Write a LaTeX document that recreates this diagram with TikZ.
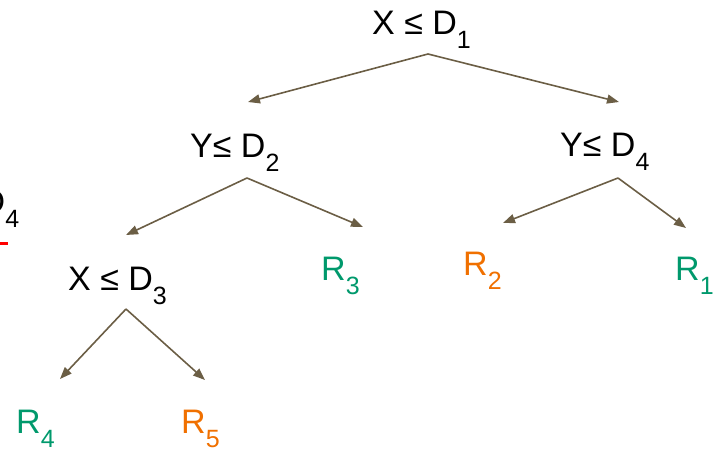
\documentclass[tikz,border=0pt]{standalone}
\usepackage{fontspec}
\setmainfont{Liberation Sans}
\usetikzlibrary{arrows.meta}
\definecolor{treegreen}{RGB}{0,153,108}
\definecolor{treeorange}{RGB}{240,112,0}
\definecolor{treearrow}{RGB}{107,94,69}
\newcommand{\idx}[1]{\raisebox{-0.44em}{\fontsize{25}{25}\selectfont #1}}
\tikzset{
  lbl/.style={inner sep=0pt, anchor=base west, font=\fontsize{34}{40}\selectfont},
  branch/.style={-{Triangle[length=12pt,width=9pt]}, line width=1.6pt, treearrow}
}
\begin{document}
\begin{tikzpicture}[x=1pt, y=-1pt]
\useasboundingbox (0,0) rectangle (717,453);
\clip (0,0) rectangle (717,453);
% Tests
\node[lbl] (t1) at (372,34) {X ≤ D\idx{1}};
\node[lbl] (t2) at (190,157) {Y≤ D\idx{2}};
\node[lbl] (t4) at (560,156) {Y≤ D\idx{4}};
\node[lbl] (t3) at (68,290) {X ≤ D\idx{3}};
% Leaves
\foreach \n/\c/\x/\y in {1/treegreen/675/280, 2/treeorange/463/275, 3/treegreen/321/280, 4/treegreen/16/433, 5/treeorange/181/433} {
  \node[lbl, \c] (r\n) at (\x,\y) {R\idx{\n}};
}
% Cut-off label at the left edge
\node[lbl] (t0) at (-19.5,213) {D\idx{4}};
\draw[red, line width=3pt] (-5,243.5) -- (8,243.5);
% Branch points and arrow ends
\foreach \name/\x/\y in {a1/428/54, a2/247/178, a4/618/178, a3/126/309,
  e1/248/102, e2/619/102, e3/126/235, e4/363/227, e5/503/223, e6/686/228, e7/60/379, e8/205/380} {
  \coordinate (\name) at (\x,\y);
}
% Arrows
\foreach \a/\b in {a1/e1, a1/e2, a2/e3, a2/e4, a4/e5, a4/e6, a3/e7, a3/e8} {
  \draw[branch] (\a) -- (\b);
}
\end{tikzpicture}
\end{document}
